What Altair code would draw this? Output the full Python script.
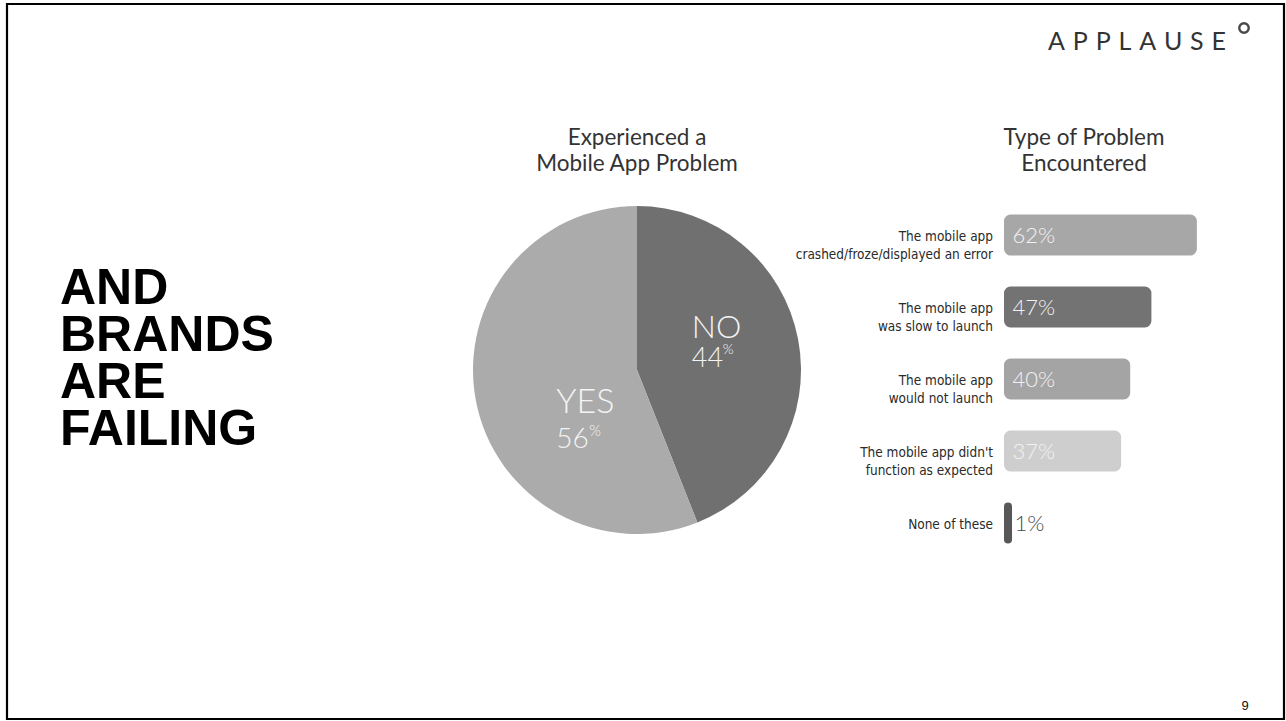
import altair as alt
import pandas as pd

# ---------------- data ----------------
PIE_ANSWERS = ["NO", "YES"]
PIE_VALUES = [44, 56]

BAR_CATEGORIES = [
    "The mobile app\ncrashed/froze/displayed an error",
    "The mobile app\nwas slow to launch",
    "The mobile app\nwould not launch",
    "The mobile app didn't\nfunction as expected",
    "None of these",
]
BAR_VALUES = [62, 47, 40, 37, 1]

PIE_TITLE = ["Experienced a", "Mobile App Problem"]
BAR_TITLE = ["Type of Problem", "Encountered"]
HEADLINE = ["AND", "BRANDS", "ARE", "FAILING"]
LOGO = "\u2009\u2009\u200a".join("APPLAUSE")
PAGE = "9"

# ---------------- styles ----------------
PIE_COLORS = ["#707070", "#ababab"]
BAR_COLORS = ["#a7a7a7", "#737373", "#a4a4a4", "#cecece", "#585858"]
LIGHT = "Lato, Open Sans, sans-serif"
NARROW = "Liberation Sans Narrow, DejaVu Sans Condensed, sans-serif"
BOLD = "Liberation Sans, Arial, sans-serif"

pie_df = pd.DataFrame({"answer": PIE_ANSWERS, "pct": PIE_VALUES,
                       "order": list(range(len(PIE_ANSWERS)))})
bar_df = pd.DataFrame({"category": BAR_CATEGORIES, "pct": BAR_VALUES})
ONE = alt.InlineData(values=[{}])

CX, CY, R = 637, 370, 164

# ---------------- pie ----------------
pie_base = alt.Chart(pie_df).encode(
    theta=alt.Theta("pct:Q", stack=True),
    order=alt.Order("order:Q"),
)
arc = pie_base.mark_arc(radius=R).encode(
    color=alt.Color("answer:N", scale=alt.Scale(domain=PIE_ANSWERS, range=PIE_COLORS), legend=None),
    x=alt.value(CX), y=alt.value(CY),
)


def pie_label(which, expr, size, dx, dy):
    return pie_base.transform_calculate(
        lbl=f"datum.answer == '{which}' ? {expr} : ''"
    ).mark_text(radius=70, align="left", baseline="alphabetic", dx=dx, dy=dy,
                fontSize=size, font=LIGHT, fontWeight=300, color="#f4f4f4").encode(
        text="lbl:N", x=alt.value(CX), y=alt.value(CY))


pie_labels = [
    pie_label("NO", "datum.answer", 32, -14, -19),
    pie_label("NO", "format(datum.pct, 'd')", 27, -14, 10),
    pie_label("NO", "'%'", 14, 17, -3),
    pie_label("YES", "datum.answer", 34, -12, 30),
    pie_label("YES", "format(datum.pct, 'd')", 28, -12, 65),
    pie_label("YES", "'%'", 15, 21, 53),
]

# ---------------- bars ----------------
xscale = alt.Scale(domain=[0, 100], range=[1006.5, 1309.5], nice=False, zero=True)
yscale = alt.Scale(domain=BAR_CATEGORIES, range=[199, 559], paddingInner=0.5, paddingOuter=0.25)

bar_base = alt.Chart(bar_df).transform_calculate(zero="0").encode(
    y=alt.Y("category:N", scale=yscale, axis=None),
)
bars = bar_base.mark_bar(cornerRadius=4, strokeWidth=5, strokeJoin="round").encode(
    x=alt.X("pct:Q", scale=xscale, axis=None, stack=None),
    color=alt.Color("category:N", scale=alt.Scale(domain=BAR_CATEGORIES, range=BAR_COLORS), legend=None),
    stroke=alt.Stroke("category:N", scale=alt.Scale(domain=BAR_CATEGORIES, range=BAR_COLORS), legend=None),
)
inside = bar_base.transform_filter("datum.pct >= 5").mark_text(
    align="left", baseline="middle", dx=6, dy=1, fontSize=22, font=LIGHT, fontWeight=300,
    color="#f2f2f2").encode(
    x=alt.X("zero:Q", scale=xscale, axis=None),
    text=alt.Text("label:N"),
).transform_calculate(label="format(datum.pct, 'd') + '%'")
outside = bar_base.transform_filter("datum.pct < 5").mark_text(
    align="left", baseline="middle", dx=5, dy=1, fontSize=22, font=LIGHT, fontWeight=300,
    color="#4a4a4a").encode(
    x=alt.X("pct:Q", scale=xscale, axis=None),
    text=alt.Text("label:N"),
).transform_calculate(label="format(datum.pct, 'd') + '%'")
cat_labels = bar_base.mark_text(
    align="right", baseline="middle", dx=-13.5, dy=2, fontSize=13.5, font=NARROW,
    lineBreak="\n", lineHeight=18, color="#2a2a2a").encode(
    x=alt.X("zero:Q", scale=xscale, axis=None),
    text="category:N",
)

# ---------------- page decoration ----------------
title_pie = alt.Chart(ONE).mark_text(
    align="center", baseline="alphabetic", fontSize=22.5, font=LIGHT,
    lineHeight=26, color="#333333").encode(
    x=alt.value(637), y=alt.value(145), text=alt.value(PIE_TITLE))
title_bar = alt.Chart(ONE).mark_text(
    align="center", baseline="alphabetic", fontSize=22.5, font=LIGHT,
    lineHeight=26, color="#333333").encode(
    x=alt.value(1084), y=alt.value(145), text=alt.value(BAR_TITLE))
headline = alt.Chart(ONE).mark_text(
    align="left", baseline="alphabetic", fontSize=50, font=BOLD, fontWeight="bold",
    lineHeight=47, color="#000000").encode(
    x=alt.value(60), y=alt.value(304), text=alt.value(HEADLINE))
logo = alt.Chart(ONE).mark_text(
    align="center", baseline="alphabetic", fontSize=25, font=LIGHT, color="#333333").encode(
    x=alt.value(1137), y=alt.value(50), text=alt.value(LOGO))
logo_ring = alt.Chart(ONE).mark_point(
    shape="circle", filled=False, size=90, strokeWidth=2.4, color="#4a4a4a", opacity=1).encode(
    x=alt.value(1244), y=alt.value(28))
page_no = alt.Chart(ONE).mark_text(
    align="center", baseline="alphabetic", fontSize=13, font=BOLD, color="#111111").encode(
    x=alt.value(1245), y=alt.value(710), text=alt.value(PAGE))
border = alt.Chart(ONE).mark_rect(
    filled=False, stroke="#000000", strokeWidth=2.2).encode(
    x=alt.value(7), x2=alt.value(1284), y=alt.value(4), y2=alt.value(719))

chart = alt.layer(
    arc, *pie_labels, bars, inside, outside, cat_labels,
    title_pie, title_bar, headline, logo, logo_ring, page_no, border,
).resolve_scale(
    color="independent", stroke="independent"
).properties(
    width=1286, height=721, autosize=alt.AutoSizeParams(type="none"), padding=0,
    background="white",
).configure_view(stroke=None)

chart.save("out.html", embed_options={"renderer": "svg", "actions": False})
